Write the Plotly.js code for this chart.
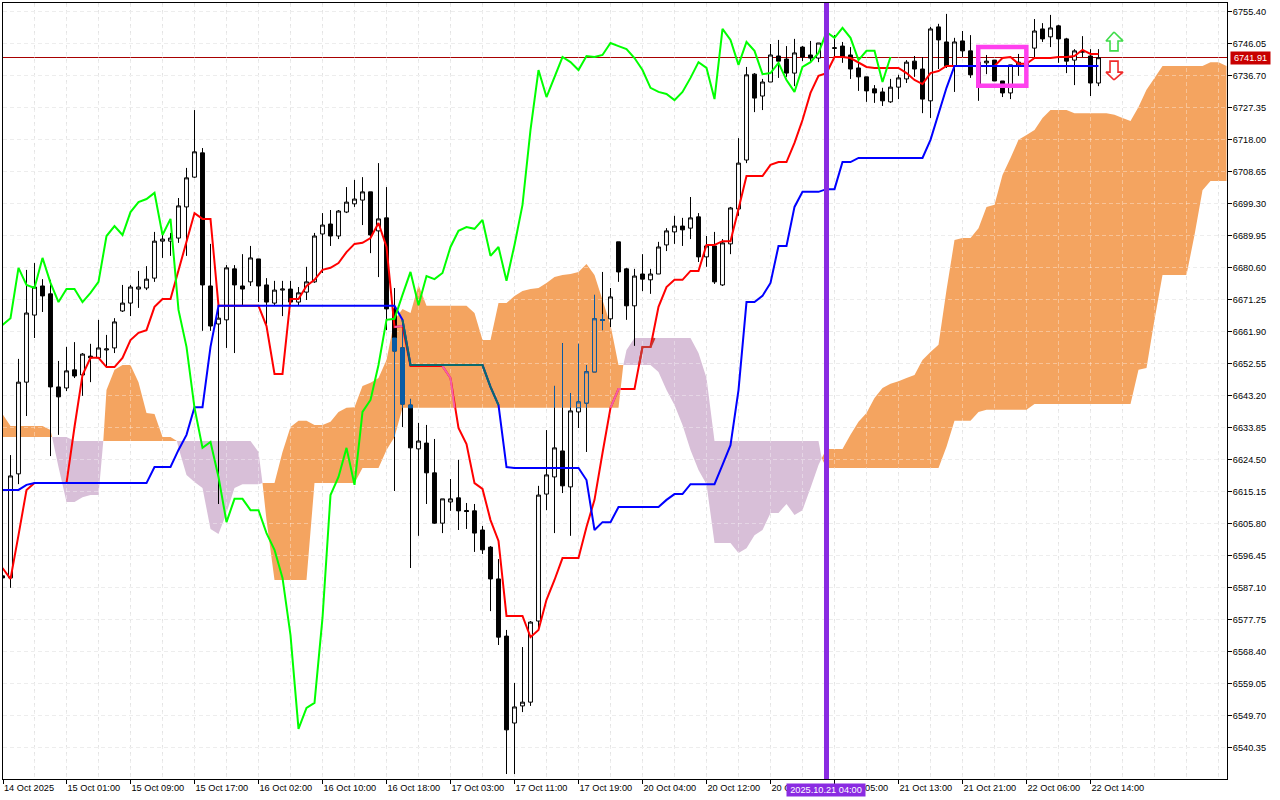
<!DOCTYPE html>
<html><head><meta charset="utf-8">
<script src="https://cdn.plot.ly/plotly-3.0.1.min.js"></script>
<style>html,body{margin:0;padding:0;background:#fff}#c{width:1280px;height:800px}</style>
</head><body><div id="c"></div>
<script>
// ---- tick labels ----
const priceTicks=[6755.40,6746.05,6736.70,6727.35,6718.00,6708.65,6699.30,6689.95,6680.60,6671.25,6661.90,6652.55,6643.20,6633.85,6624.50,6615.15,6605.80,6596.45,6587.10,6577.75,6568.40,6559.05,6549.70,6540.35];
const timeLabels=['14 Oct 2025','15 Oct 01:00','15 Oct 09:00','15 Oct 17:00','16 Oct 02:00','16 Oct 10:00','16 Oct 18:00','17 Oct 03:00','17 Oct 11:00','17 Oct 19:00','20 Oct 04:00','20 Oct 12:00','20 Oct 20:00','21 Oct 05:00','21 Oct 13:00','21 Oct 21:00','22 Oct 06:00','22 Oct 14:00'];
// ---- candles (one per bar) ----
const opens=[6590.5,6589.9,6620.3,6647.1,6666.7,6675.2,6672.9,6645.7,6645.4,6650.7,6649.2,6654.7,6654.2,6656.5,6657.1,6667.9,6670.2,6674.3,6674.6,6677.5,6688.3,6688.3,6689.2,6698.3,6707.0,6714.1,6675.2,6664.1,6665.3,6680.2,6675.2,6676.4,6683.1,6675.5,6670.2,6674.0,6674.3,6670.5,6673.4,6676.4,6690.4,6693.3,6689.8,6696.8,6699.2,6700.3,6702.7,6691.3,6695.1,6668.5,6657.1,6640.4,6627.6,6629.3,6620.6,6605.9,6612.1,6613.3,6609.6,6609.5,6603.9,6598.9,6589.6,6572.9,6547.5,6552.5,6553.6,6577.3,6614.4,6619.4,6627.0,6616.5,6638.4,6641.0,6650.1,6665.2,6665.6,6688.1,6680.2,6669.4,6678.7,6677.0,6678.7,6687.2,6691.0,6692.7,6692.1,6695.4,6683.7,6686.9,6675.5,6687.5,6697.7,6712.0,6737.1,6730.7,6734.8,6742.4,6741.5,6737.4,6745.0,6742.7,6741.8,6743.0,6744.6,6745.3,6742.7,6738.9,6736.3,6732.8,6731.9,6729.0,6733.3,6735.7,6740.9,6738.6,6729.3,6750.9,6746.5,6739.5,6746.8,6743.9,6740.6,6740.4,6741.2,6735.1,6731.6,6739.8,6739.5,6744.7,6750.3,6748.0,6751.2,6747.4,6741.2,6743.5,6742.4,6734.5];
const highs=[6590.5,6625.8,6653.9,6679.9,6681.9,6677.2,6677.0,6653.3,6657.4,6658.8,6655.6,6658.3,6665.3,6660.9,6665.8,6675.5,6675.5,6679.6,6681.0,6691.0,6690.1,6690.7,6700.9,6709.7,6726.6,6715.5,6687.5,6669.4,6681.3,6681.3,6684.5,6686.9,6683.1,6677.5,6676.7,6676.7,6676.7,6674.9,6680.8,6690.7,6696.5,6697.4,6697.4,6704.1,6706.2,6707.0,6702.7,6711.1,6704.1,6674.6,6665.3,6642.2,6635.2,6634.6,6630.5,6613.0,6618.8,6624.4,6611.8,6611.5,6605.1,6599.2,6595.4,6574.7,6559.2,6569.7,6577.3,6616.8,6633.1,6646.0,6658.5,6643.9,6658.3,6652.1,6672.6,6679.3,6674.6,6688.1,6680.5,6680.2,6684.5,6680.2,6688.1,6692.1,6695.7,6695.1,6701.2,6696.5,6689.8,6691.0,6688.9,6698.3,6718.4,6739.2,6737.4,6735.7,6745.9,6747.1,6745.3,6747.4,6745.3,6746.8,6746.2,6748.0,6748.5,6746.5,6745.0,6741.2,6736.3,6733.9,6733.1,6735.7,6736.9,6741.2,6742.4,6742.1,6750.9,6751.8,6754.7,6747.7,6749.7,6748.5,6742.7,6742.7,6741.2,6735.1,6739.8,6743.0,6741.2,6753.2,6752.0,6754.4,6751.5,6747.7,6744.4,6748.2,6744.4,6744.4];
const lows=[6589.9,6587.0,6617.3,6637.2,6660.0,6667.6,6625.5,6631.7,6644.5,6648.3,6643.1,6647.1,6654.2,6651.5,6655.6,6667.6,6666.4,6668.8,6674.0,6676.4,6683.4,6684.0,6687.8,6684.0,6706.8,6662.1,6662.1,6611.5,6657.1,6655.6,6669.6,6675.2,6670.5,6664.1,6669.4,6666.4,6669.4,6669.4,6671.1,6676.1,6679.0,6686.9,6688.9,6696.5,6698.3,6693.0,6684.8,6677.8,6662.3,6615.3,6634.0,6592.8,6602.2,6611.5,6605.7,6603.0,6609.5,6603.9,6604.2,6597.5,6596.9,6580.2,6570.3,6532.6,6532.6,6550.7,6552.5,6574.7,6609.7,6603.0,6614.7,6602.2,6633.7,6626.7,6650.1,6662.3,6663.2,6676.4,6665.3,6657.7,6673.7,6672.9,6678.7,6685.4,6687.5,6686.9,6688.9,6682.2,6680.8,6675.8,6675.2,6684.5,6695.7,6711.1,6726.0,6726.6,6734.8,6736.0,6736.3,6733.6,6740.9,6740.6,6740.6,6740.0,6742.1,6740.4,6735.7,6732.2,6729.0,6728.7,6727.8,6728.7,6729.8,6734.5,6736.3,6725.7,6724.3,6738.6,6738.9,6731.9,6742.1,6736.0,6729.3,6737.1,6735.1,6730.4,6729.8,6736.6,6738.3,6742.1,6746.5,6745.0,6740.4,6737.4,6733.9,6742.1,6730.7,6733.6];
const closes=[6589.9,6619.7,6647.1,6667.3,6674.9,6672.3,6645.7,6642.8,6650.4,6648.9,6655.3,6654.2,6657.1,6656.8,6664.7,6670.2,6674.9,6674.9,6677.2,6688.3,6688.9,6689.2,6698.6,6706.8,6714.4,6675.5,6663.5,6665.8,6680.5,6675.5,6674.3,6683.4,6675.2,6670.5,6674.0,6674.3,6670.5,6673.2,6676.4,6689.8,6693.0,6689.8,6697.1,6699.7,6700.6,6702.7,6690.1,6694.8,6668.5,6656.2,6640.7,6627.9,6629.9,6620.6,6605.9,6613.0,6613.0,6609.5,6609.3,6603.0,6598.1,6589.6,6572.6,6545.5,6552.2,6553.6,6577.0,6614.1,6620.0,6627.9,6616.8,6638.7,6641.3,6650.1,6665.6,6665.3,6672.0,6679.3,6669.4,6678.1,6677.2,6678.7,6686.6,6691.3,6692.7,6691.6,6695.1,6683.7,6686.9,6676.4,6687.8,6698.0,6711.1,6736.9,6730.1,6734.8,6742.7,6740.9,6737.4,6743.3,6742.1,6741.8,6746.2,6746.0,6744.8,6742.1,6738.6,6736.3,6732.2,6731.6,6729.3,6733.3,6736.0,6740.6,6738.6,6729.8,6750.3,6747.1,6739.5,6746.5,6743.9,6736.9,6733.9,6740.9,6735.1,6731.6,6739.8,6740.6,6740.9,6749.7,6747.4,6750.6,6747.4,6740.9,6743.9,6743.7,6734.5,6741.9];
// ---- Ichimoku lines ----
const tenkan=[6592.8,6589.6,6602.4,6615.6,6617.6,6617.6,6617.6,6617.6,6617.6,6634.0,6649.2,6654.2,6654.2,6651.5,6651.5,6654.2,6659.4,6661.5,6662.3,6669.1,6671.4,6671.4,6679.9,6688.6,6696.5,6694.8,6694.8,6669.4,6669.4,6669.4,6669.4,6669.4,6669.4,6663.5,6649.5,6649.5,6671.4,6671.4,6675.2,6677.0,6679.9,6680.5,6681.9,6685.1,6687.5,6687.8,6689.2,6693.6,6686.6,6663.2,6663.5,6651.8,6651.8,6651.8,6651.8,6651.8,6648.3,6633.7,6629.0,6617.6,6615.9,6606.8,6600.7,6578.8,6578.8,6578.8,6572.6,6574.7,6583.5,6589.3,6595.7,6595.7,6595.7,6604.8,6612.7,6626.4,6639.6,6645.1,6645.1,6645.1,6657.4,6657.4,6669.1,6674.9,6677.0,6677.0,6679.6,6679.6,6687.2,6687.2,6688.3,6688.3,6697.7,6707.3,6707.3,6707.3,6710.6,6711.4,6711.4,6717.0,6723.7,6731.6,6736.6,6737.4,6742.1,6742.1,6741.8,6740.4,6739.2,6738.9,6738.9,6738.9,6738.9,6737.4,6735.4,6734.2,6737.4,6738.0,6739.5,6739.5,6739.5,6739.5,6739.5,6739.5,6739.5,6741.8,6742.1,6740.1,6740.1,6741.8,6741.8,6741.8,6742.1,6742.1,6742.4,6744.2,6743.0,6743.0];
const kijun=[6615.6,6615.6,6615.6,6617.1,6617.6,6617.6,6617.6,6617.6,6617.6,6617.6,6617.6,6617.6,6617.6,6617.6,6617.6,6617.6,6617.6,6617.6,6617.6,6622.3,6622.3,6622.3,6627.3,6631.7,6639.8,6639.8,6657.4,6669.4,6669.4,6669.4,6669.4,6669.4,6669.4,6669.4,6669.4,6669.4,6669.4,6669.4,6669.4,6669.4,6669.4,6669.4,6669.4,6669.4,6669.4,6669.4,6669.4,6669.4,6669.4,6669.4,6665.3,6652.1,6652.1,6652.1,6652.1,6652.1,6652.1,6652.1,6652.1,6652.1,6652.1,6645.7,6640.4,6622.3,6622.0,6622.0,6622.0,6622.0,6622.0,6622.0,6622.0,6622.0,6622.0,6618.5,6603.9,6606.2,6606.2,6610.6,6610.6,6610.6,6610.6,6610.6,6610.6,6612.7,6614.4,6614.4,6617.3,6617.3,6617.3,6617.3,6622.9,6628.7,6644.8,6670.5,6670.5,6672.3,6676.1,6686.9,6686.9,6698.3,6702.7,6702.7,6702.7,6703.5,6703.5,6711.4,6711.4,6712.6,6712.6,6712.6,6712.6,6712.6,6712.6,6712.6,6712.6,6712.6,6717.9,6725.7,6733.1,6739.5,6739.5,6739.5,6739.5,6739.5,6739.5,6739.5,6739.5,6739.5,6739.5,6739.5,6739.5,6739.5,6739.5,6739.5,6739.5,6739.5,6739.5,6739.5];
const chikou=[6663.8,6665.8,6680.5,6675.5,6674.6,6683.4,6676.1,6670.5,6674.3,6674.3,6670.5,6673.2,6676.4,6689.8,6692.7,6690.1,6696.8,6699.7,6700.6,6702.4,6690.1,6694.8,6668.2,6657.4,6639.6,6627.9,6629.6,6619.4,6606.2,6613.0,6613.0,6609.7,6609.7,6603.0,6598.1,6589.9,6573.2,6545.8,6551.9,6553.4,6578.2,6614.1,6619.4,6627.9,6617.1,6638.4,6641.9,6652.1,6665.3,6665.6,6672.6,6679.3,6669.6,6678.1,6677.2,6679.0,6686.6,6691.3,6692.4,6691.9,6694.5,6684.0,6686.6,6676.7,6687.2,6698.9,6720.8,6738.3,6730.4,6736.0,6742.1,6740.6,6738.3,6742.4,6742.1,6742.7,6746.2,6745.3,6744.4,6741.8,6738.3,6733.1,6731.9,6731.3,6729.5,6731.9,6736.0,6740.6,6738.9,6729.8,6750.3,6747.1,6739.8,6746.5,6743.9,6737.1,6737.4,6740.4,6735.4,6731.9,6739.2,6740.6,6743.3,6749.4,6747.7,6750.6,6747.7,6741.2,6743.9,6743.9,6734.8,6742.1];
// ---- cloud regions (bar, upper, lower) ----
const orange1Bars=[0,1,2,3,4,5,6,6.2];
const orange1Top=[6637.8,6634.3,6634.3,6634.3,6634.3,6634.3,6633.1,6631.1];
const orange1Bot=[6631.1,6631.1,6631.1,6631.1,6631.1,6631.1,6631.1,6631.1];
const purple1Bars=[6.2,7,8,9,10,11,12,12.6];
const purple1Top=[6631.1,6631.1,6631.1,6629.9,6629.9,6629.9,6629.9,6629.9];
const purple1Bot=[6631.1,6622.3,6612.1,6612.1,6613.5,6614.1,6614.1,6629.9];
const orange2Bars=[12.6,13,14,15,16,17,18,19,20,21,21.8];
const orange2Top=[6629.9,6644.8,6650.7,6652.1,6652.1,6647.1,6638.1,6637.8,6631.1,6631.1,6629.9];
const orange2Bot=[6629.9,6629.9,6629.9,6629.9,6629.9,6629.9,6629.9,6629.9,6629.9,6629.9,6629.9];
const purple2Bars=[21.8,22,23,24,25,26,27,28,29,30,31,32,32.5];
const purple2Top=[6629.9,6629.9,6629.9,6629.9,6629.9,6629.9,6629.9,6629.9,6629.9,6629.9,6629.9,6626.7,6617.6];
const purple2Bot=[6629.9,6627.9,6620.0,6617.9,6616.2,6604.2,6602.7,6608.9,6616.2,6617.3,6617.3,6617.3,6617.6];
const orange3Bars=[32.5,33,34,35,36,37,38,39,40,41,42,43,44,45,46,47,48,49,50,51,52,53,54,55,56,57,58,59,60,61,62,63,64,65,66,67,68,69,70,71,72,73,74,75,76,77,77.6];
const orange3Top=[6617.6,6617.6,6617.6,6626.7,6634.0,6635.8,6635.8,6634.6,6634.6,6635.5,6638.4,6639.6,6639.8,6646.0,6646.9,6648.3,6653.6,6665.3,6668.5,6667.3,6675.5,6669.4,6669.4,6669.4,6669.4,6669.4,6669.4,6667.3,6659.4,6659.4,6670.2,6670.2,6672.3,6673.7,6674.3,6674.6,6676.1,6677.8,6678.4,6678.7,6679.3,6681.6,6678.4,6671.1,6663.8,6652.1,6652.1];
const orange3Bot=[6617.6,6606.8,6589.3,6589.3,6589.3,6589.3,6589.3,6617.6,6617.6,6617.6,6617.6,6617.6,6617.6,6622.0,6622.0,6622.0,6627.3,6631.1,6639.6,6639.6,6639.6,6639.6,6639.6,6639.6,6639.6,6639.6,6639.6,6639.6,6639.6,6639.6,6639.6,6639.6,6639.6,6639.6,6639.6,6639.6,6639.6,6639.6,6639.6,6639.6,6639.6,6639.6,6639.6,6639.6,6639.6,6639.6,6652.1];
const purple3Bars=[77.6,78,79,80,81,82,83,84,85,86,87,88,89,90,91,92,93,94,95,96,97,98,99,100,101,102,102.4];
const purple3Top=[6652.1,6656.5,6660.0,6660.0,6660.0,6660.0,6660.0,6660.0,6660.0,6660.0,6655.6,6648.3,6629.9,6629.9,6629.9,6629.9,6629.9,6629.9,6629.9,6629.9,6629.9,6629.9,6629.9,6629.9,6629.9,6629.9,6624.9];
const purple3Bot=[6652.1,6652.1,6652.1,6652.1,6652.1,6650.1,6644.8,6640.4,6634.6,6627.3,6621.4,6617.3,6600.1,6600.1,6600.1,6597.2,6598.6,6602.4,6603.9,6608.9,6608.9,6611.5,6608.3,6609.7,6616.2,6622.9,6624.9];
const orange4Bars=[102.4,103,104,105,106,107,108,109,110,111,112,113,114,115,116,117,118,119,120,121,122,123,124,125,126,127,128,129,130,131,132,133,134,135,136,137,138,139,140,141,142,143,144,145,146,147,148,149,150,151,152,153];
const orange4Top=[6624.9,6627.6,6627.6,6627.6,6631.7,6635.5,6638.1,6642.5,6645.4,6646.6,6647.4,6648.3,6649.2,6653.6,6655.9,6658.0,6674.0,6688.6,6689.2,6689.2,6692.1,6698.3,6698.9,6707.6,6712.6,6717.9,6719.3,6720.8,6724.3,6726.6,6726.6,6726.6,6725.7,6725.7,6725.7,6725.7,6725.7,6725.2,6724.3,6723.4,6727.5,6732.5,6736.0,6739.5,6739.5,6739.5,6739.5,6739.5,6739.5,6740.6,6740.6,6739.5];
const orange4Bot=[6624.9,6622.0,6622.0,6622.0,6622.0,6622.0,6622.0,6622.0,6622.0,6622.0,6622.0,6622.0,6622.0,6622.0,6622.0,6622.0,6628.2,6635.8,6635.8,6635.8,6638.4,6639.0,6639.0,6639.0,6639.0,6639.0,6639.0,6640.7,6640.7,6640.7,6640.7,6640.7,6640.7,6640.7,6640.7,6640.7,6640.7,6640.7,6640.7,6640.7,6650.7,6651.2,6665.3,6678.4,6678.4,6678.4,6678.4,6690.1,6703.2,6705.9,6705.9,6705.9];
// ---- candle parts that look blue on the orange cloud ----
const inCloudBars=[49,50,51,72,73,74,75];
const inCloudOpen=[6660.0,6657.1,6640.4,6639.6,6641.0,6650.1,6665.2];
const inCloudHigh=[6660.0,6665.3,6642.2,6658.3,6652.1,6672.6,6667.0];
const inCloudLow=[6631.1,6639.6,6639.6,6639.6,6639.6,6650.1,6662.3];
const inCloudClose=[6656.2,6640.7,6639.6,6641.3,6650.1,6665.6,6665.3];
const inCloudWickBars=[69,70,71];
const inCloudWickTop=[6646.0,6658.5,6643.9];
const inCloudWickBot=[6639.6,6639.6,6639.6];
// ---- line parts recoloured over the cloud ----
const pinkBars=[49,50,null,55,56,56.5,null,76,77,77.3];
const pinkPrices=[6663.2,6663.5,null,6651.8,6648.3,6639.6,null,6639.6,6645.1,6645.1];
const brownBars=[79.6,80,81,81.5];
const brownPrices=[6652.5,6657.4,6657.4,6660.0];
const tealFirstBar=50, tealLastBar=62;
// ---- markers ----
const lastPrice=6741.91;
const lastPriceRow=6741.96;
const markerBar=103;
const markerLabel='2025.10.21 04:00';
const boxBars=[121.97,127.98];
const boxPrices=[6733.7,6745.0];
const upArrowBars=[138.94,140.06,139.44,139.44,138.44,138.44,137.94,138.94];
const upArrowPrices=[6749.4,6746.8,6746.8,6743.9,6743.9,6746.8,6746.8,6749.4];
const downArrowBars=[138.94,140.06,139.44,139.44,138.44,138.44,137.94,138.94];
const downArrowPrices=[6735.4,6737.7,6737.7,6740.9,6740.9,6737.7,6737.7,6735.4];

// ---- layout constants ----
const W=1280,H=800,mL=3,mT=3,mR=53,mB=21;
const unitsPerPx=9.35/32, barPx=8;
const yMax=6755.4+8.5*unitsPerPx, yMin=yMax-(H-mT-mB)*unitsPerPx;
const xMin=0.0625, xMax=xMin+(W-mL-mR)/barPx;
const gridCol='#e4e4e4', dash='4px,3px';
const font='"Liberation Sans",Arial,sans-serif';
const labelSize=9.2;
const ORANGE='#f4a460', PURPLE='#d8bfd8', BLUEISH='#0a5ca6';

const idx=opens.map((_,i)=>i);
const majorBars=timeLabels.map((_,k)=>Math.max(k*8,xMin));
const gridBars=[];for(let b=4;b<=152;b+=4)gridBars.push(b);

function band(xs,top,bot,color,name){
  return {type:'scatter',mode:'none',name,x:xs.concat(xs.slice().reverse()),y:top.concat(bot.slice().reverse()),
    fill:'toself',fillcolor:color,hoverinfo:'skip',xaxis:'x',yaxis:'y',showlegend:false};
}
// lighter grid where it crosses the cloud
const gx=[],gy=[];
gridBars.forEach(b=>{gx.push(b,b,null);gy.push(yMin,yMax,null);});
priceTicks.forEach(p=>{gx.push(xMin,xMax,null);gy.push(p,p,null);});

const wx=[],wy=[];
inCloudWickBars.forEach((b,k)=>{wx.push(b,b,null);wy.push(inCloudWickTop[k],inCloudWickBot[k],null);});

const ln=(x,y,color,width,name)=>({type:'scatter',mode:'lines',x,y,name,line:{color,width,shape:'linear'},hoverinfo:'skip',xaxis:'x2',yaxis:'y2',showlegend:false});
const tealX=idx.slice(tealFirstBar,tealLastBar+1), tealY=kijun.slice(tealFirstBar,tealLastBar+1);

const traces=[
  band(orange1Bars,orange1Top,orange1Bot,ORANGE,'cloud up 1'),
  band(purple1Bars,purple1Top,purple1Bot,PURPLE,'cloud down 1'),
  band(orange2Bars,orange2Top,orange2Bot,ORANGE,'cloud up 2'),
  band(purple2Bars,purple2Top,purple2Bot,PURPLE,'cloud down 2'),
  band(orange3Bars,orange3Top,orange3Bot,ORANGE,'cloud up 3'),
  band(purple3Bars,purple3Top,purple3Bot,PURPLE,'cloud down 3'),
  band(orange4Bars,orange4Top,orange4Bot,ORANGE,'cloud up 4'),
  {type:'scatter',mode:'lines',x:gx,y:gy,line:{color:'rgba(255,255,255,0.35)',width:1,dash},hoverinfo:'skip',xaxis:'x',yaxis:'y',showlegend:false},
  {type:'candlestick',name:'price',x:idx,open:opens,high:highs,low:lows,close:closes,xaxis:'x2',yaxis:'y2',
    increasing:{line:{color:'#000',width:1},fillcolor:'#fff'},decreasing:{line:{color:'#000',width:1},fillcolor:'#000'},
    whiskerwidth:0,hoverinfo:'skip',showlegend:false},
  {type:'candlestick',name:'price in cloud',x:inCloudBars,open:inCloudOpen,high:inCloudHigh,low:inCloudLow,close:inCloudClose,xaxis:'x2',yaxis:'y2',
    increasing:{line:{color:BLUEISH,width:1},fillcolor:ORANGE},decreasing:{line:{color:BLUEISH,width:1},fillcolor:BLUEISH},
    whiskerwidth:0,hoverinfo:'skip',showlegend:false},
  ln(wx,wy,BLUEISH,1,'wicks in cloud'),
  ln(idx,tenkan,'#ff0000',2,'Tenkan'),
  ln(pinkBars,pinkPrices,'#f45fa8',2,'Tenkan over cloud'),
  ln(brownBars,brownPrices,'#c8352f',2,'Tenkan over cloud down'),
  ln(idx,kijun,'#0000ff',2,'Kijun'),
  ln(tealX,tealY,'#0c6a6c',2,'Kijun over cloud'),
  ln(idx.slice(0,chikou.length),chikou,'#00ff00',2,'Chikou'),
  ln(upArrowBars,upArrowPrices,'#3fdc4a',1.6,'up arrow'),
  ln(downArrowBars,downArrowPrices,'#f02a2a',1.6,'down arrow')
];

const layout={
  width:W,height:H,margin:{l:mL,r:mR,t:mT,b:mB,pad:0},paper_bgcolor:'#fff',plot_bgcolor:'#fff',
  showlegend:false,hovermode:false,dragmode:false,
  xaxis:{type:'linear',range:[xMin,xMax],tickmode:'array',tickvals:majorBars,ticktext:timeLabels,ticks:'outside',ticklen:4,tickwidth:1,tickcolor:'#000',
    ticklabelposition:'outside right',tickangle:0,tickfont:{family:font,size:labelSize,color:'#000'},showline:true,linecolor:'#000',linewidth:1,mirror:true,
    showgrid:true,gridcolor:gridCol,griddash:dash,gridwidth:1,zeroline:false,
    minor:{tickmode:'array',tickvals:gridBars,showgrid:true,gridcolor:gridCol,griddash:dash,gridwidth:1,ticks:''},fixedrange:true},
  yaxis:{type:'linear',side:'right',range:[yMin,yMax],tickmode:'array',tickvals:priceTicks,ticktext:priceTicks.map(p=>p.toFixed(2)),ticks:'outside',ticklen:4,tickwidth:1,tickcolor:'#000',
    ticklabelstandoff:-1,tickfont:{family:font,size:labelSize,color:'#000'},showline:true,linecolor:'#000',linewidth:1,mirror:true,
    showgrid:true,gridcolor:gridCol,griddash:dash,gridwidth:1,zeroline:false,fixedrange:true},
  xaxis2:{type:'linear',overlaying:'x',range:[xMin,xMax],visible:false,rangeslider:{visible:false},fixedrange:true},
  yaxis2:{type:'linear',overlaying:'y',side:'right',range:[yMin,yMax],visible:false,fixedrange:true},
  shapes:[
    {type:'line',layer:'below',xref:'paper',x0:0,x1:1,yref:'y',y0:lastPriceRow,y1:lastPriceRow,line:{color:'#a80000',width:1}},
    {type:'rect',layer:'above',xref:'x',x0:boxBars[0],x1:boxBars[1],yref:'y',y0:boxPrices[0],y1:boxPrices[1],line:{color:'#ff40ee',width:4.5},fillcolor:'rgba(0,0,0,0)'},
    {type:'line',layer:'above',xref:'x',x0:markerBar,x1:markerBar,yref:'paper',y0:0,y1:1,line:{color:'#8a2be2',width:5}}
  ],
  annotations:[
    {xref:'paper',x:(1230-mL)/(W-mL-mR),xanchor:'left',yref:'y',y:lastPrice,yanchor:'middle',text:lastPrice.toFixed(2),showarrow:false,width:37,align:'center',
      font:{family:font,size:labelSize,color:'#fff'},bgcolor:'#c80000',borderpad:1},
    {xref:'x',x:markerBar-0.05,xanchor:'center',yref:'paper',y:-11/(H-mT-mB),yanchor:'middle',text:markerLabel,showarrow:false,width:76,align:'center',
      font:{family:font,size:labelSize,color:'#fff'},bgcolor:'#8a2be2',borderpad:1}
  ]
};
Plotly.newPlot('c',traces,layout,{staticPlot:true,displayModeBar:false,responsive:false});
</script></body></html>
